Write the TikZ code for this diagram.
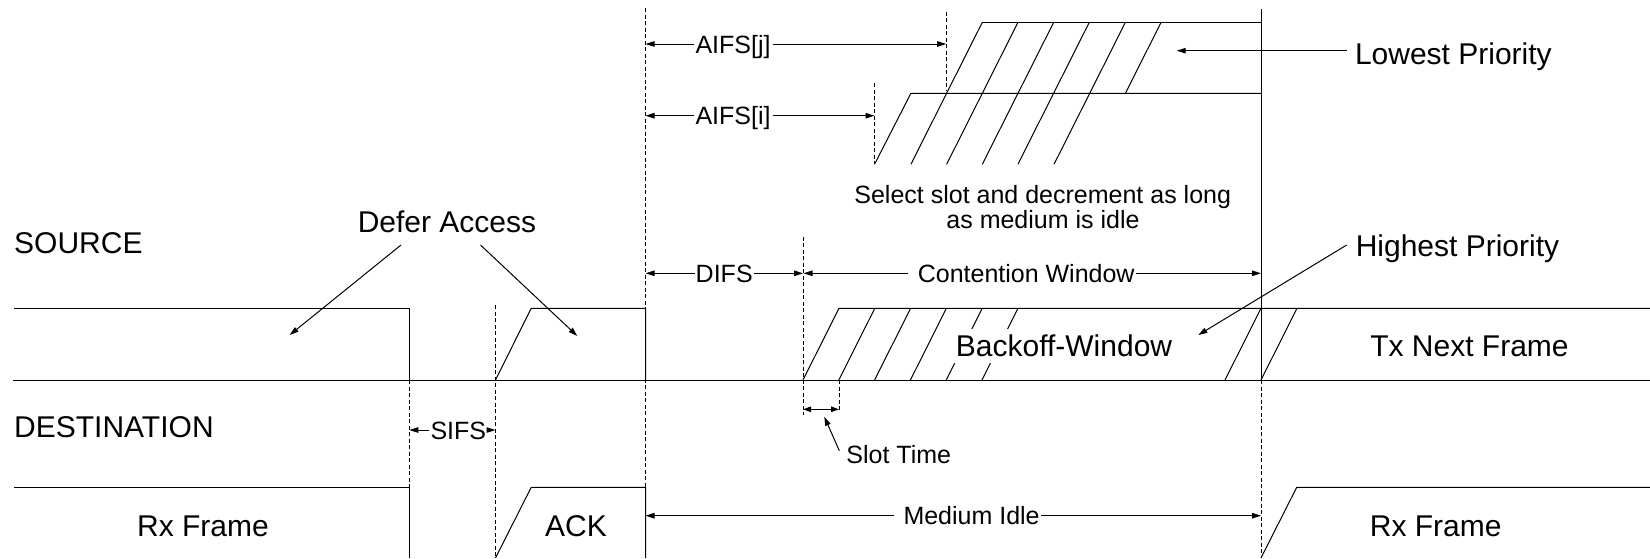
\documentclass[tikz,border=0pt]{standalone}
\usepackage{fontspec}
\setmainfont{Liberation Sans}
\usetikzlibrary{arrows.meta}
\begin{document}
\begin{tikzpicture}[x=1pt,y=-1pt,
  sig/.style={draw=black, line width=1pt, line join=miter},
  guide/.style={draw=black, line width=0.9pt, dash pattern=on 4pt off 2.5pt},
  arr/.style={draw=black, line width=1pt, -{Triangle[length=9pt,width=5.5pt]}},
  dblarr/.style={draw=black, line width=1pt, {Triangle[length=8pt,width=5.5pt]}-{Triangle[length=8pt,width=5.5pt]}},
  big/.style={font=\fontsize{30}{36}\selectfont, inner sep=0pt, anchor=base},
  small/.style={font=\fontsize{25}{30}\selectfont, inner sep=0pt, anchor=base}]

\useasboundingbox (0,0) rectangle (1650,558);

% ---------- dashed guide lines ----------
\draw[guide] (645.5,8.3) -- (645.5,558);
\draw[guide] (946.2,11.7) -- (946.2,90);
\draw[guide] (874.5,83.3) -- (874.5,164.3);
\draw[guide] (409.3,380) -- (409.3,487.3);
\draw[guide] (495.5,305) -- (495.5,558);
\draw[guide] (803,236.7) -- (803,415);
\draw[guide] (839,380) -- (839,411.7);
\draw[guide] (1261,380) -- (1261,558);

% ---------- source row ----------
\draw[sig] (14,308.3) -- (409.3,308.3) -- (409.3,380);
\draw[sig] (13.4,380) -- (1650,380);
\draw[sig] (495.5,380) -- (531.2,308.3) -- (645.5,308.3) -- (645.5,380);
\draw[sig] (803,380) -- (839,308.3) -- (1650,308.3);
\foreach \b in {838.8,874.6,910.4,946.2,982.0,1225} \draw[sig] (\b,380) -- ++(36,-71.7);
\draw[sig] (1261,380) -- (1297,308.3);
\draw[sig] (1261,9.3) -- (1261,380);

% ---------- destination row ----------
\draw[sig] (14,487.3) -- (409.3,487.3) -- (409.3,558);
\draw[sig] (495.5,558) -- (531.2,487.3) -- (645.5,487.3) -- (645.5,558);
\draw[sig] (1261,558) -- (1296.7,487.3) -- (1650,487.3);

% ---------- priority windows ----------
\draw[sig] (874.5,164.3) -- (910.9,93.3) -- (1261,93.3);
\draw[sig] (982.3,22.3) -- (1261,22.3);
\foreach \b in {910.9,946.6,982.3,1017.9,1054} \draw[sig] (\b,164.3) -- ++(71.4,-142);
\draw[sig] (1125.4,93.3) -- ++(35.7,-71);

% ---------- texts ----------
\node[big, anchor=base west] (src) at (14,253.3) {SOURCE};
\node[big, anchor=base west] (dst) at (14,437) {DESTINATION};
\node[big] (defer) at (447,232.3) {Defer Access};
\node[big] (rx1) at (203,536.7) {Rx Frame};
\node[big] (ack) at (576,536.7) {ACK};
\node[big] (rx2) at (1435.7,536.7) {Rx Frame};
\node[big] (tx) at (1469.5,356.7) {Tx Next Frame};
\node[big] (high) at (1457.5,256.7) {Highest Priority};
\node[big] (low) at (1453.4,64) {Lowest Priority};
\node[big, fill=white, inner sep=6pt] (backoff) at (1064,356.7) {Backoff-Window};
\node[small] (sel1) at (1042.7,203.5) {Select slot and decrement as long};
\node[small] (sel2) at (1043,228) {as medium is idle};

\node[small] (aifsj) at (733,53) {AIFS[j]};
\node[small] (aifsi) at (733,124.7) {AIFS[i]};
\node[small] (difs) at (724.2,282.3) {DIFS};
\node[small] (cw) at (1026.2,282.3) {Contention Window};
\node[small] (sifs) at (458.3,439) {SIFS};
\node[small] (slot) at (898.7,463.3) {Slot Time};
\node[small] (idle) at (971.6,524.7) {Medium Idle};

% ---------- arrow end points ----------
\coordinate (aifsjA) at (645.5,44);
\coordinate (aifsjB) at (946.2,44);
\coordinate (aifsiA) at (645.5,115.7);
\coordinate (aifsiB) at (874.5,115.7);
\coordinate (difsA) at (645.5,273.3);
\coordinate (difsB) at (803,273.3);
\coordinate (cwA) at (803.5,273.3);
\coordinate (cwB) at (1261,273.3);
\coordinate (sifsA) at (409.3,430);
\coordinate (sifsB) at (495.5,430);
\coordinate (idleA) at (645.5,515.7);
\coordinate (idleB) at (1261,515.7);
\coordinate (slotA) at (803,409.3);
\coordinate (slotB) at (839,409.3);
\coordinate (slotP) at (839.3,450.7);
\coordinate (slotT) at (824.3,416.7);
\coordinate (deferLs) at (401,245);
\coordinate (deferLt) at (289.7,335);
\coordinate (deferRs) at (480.5,245);
\coordinate (deferRt) at (577.3,336);
\coordinate (lowS) at (1346.7,50.7);
\coordinate (lowT) at (1176.7,50.7);
\coordinate (highS) at (1346.7,245);
\coordinate (highT) at (1198.3,335);

% ---------- arrows ----------
\draw[arr] ([xshift=-1pt]aifsj.west |- aifsjA) -- (aifsjA);
\draw[arr] ([xshift=2pt]aifsj.east |- aifsjB) -- (aifsjB);
\draw[arr] ([xshift=-1pt]aifsi.west |- aifsiA) -- (aifsiA);
\draw[arr] ([xshift=2pt]aifsi.east |- aifsiB) -- (aifsiB);
\draw[arr] ([xshift=-1pt]difs.west |- difsA) -- (difsA);
\draw[arr] ([xshift=1pt]difs.east |- difsB) -- (difsB);
\draw[arr] ([xshift=-10pt]cw.west |- cwA) -- (cwA);
\draw[arr] ([xshift=1pt]cw.east |- cwB) -- (cwB);
\draw[arr] ([xshift=-1pt]sifs.west |- sifsA) -- (sifsA);
\draw[arr] ([xshift=1pt]sifs.east |- sifsB) -- (sifsB);
\draw[arr] ([xshift=-9pt]idle.west |- idleA) -- (idleA);
\draw[arr] ([xshift=1pt]idle.east |- idleB) -- (idleB);
\draw[dblarr] (slotA) -- (slotB);
\draw[arr] (slotP) -- (slotT);
\draw[arr] (deferLs) -- (deferLt);
\draw[arr] (deferRs) -- (deferRt);
\draw[arr] (lowS) -- (lowT);
\draw[arr] (highS) -- (highT);
\end{tikzpicture}
\end{document}
